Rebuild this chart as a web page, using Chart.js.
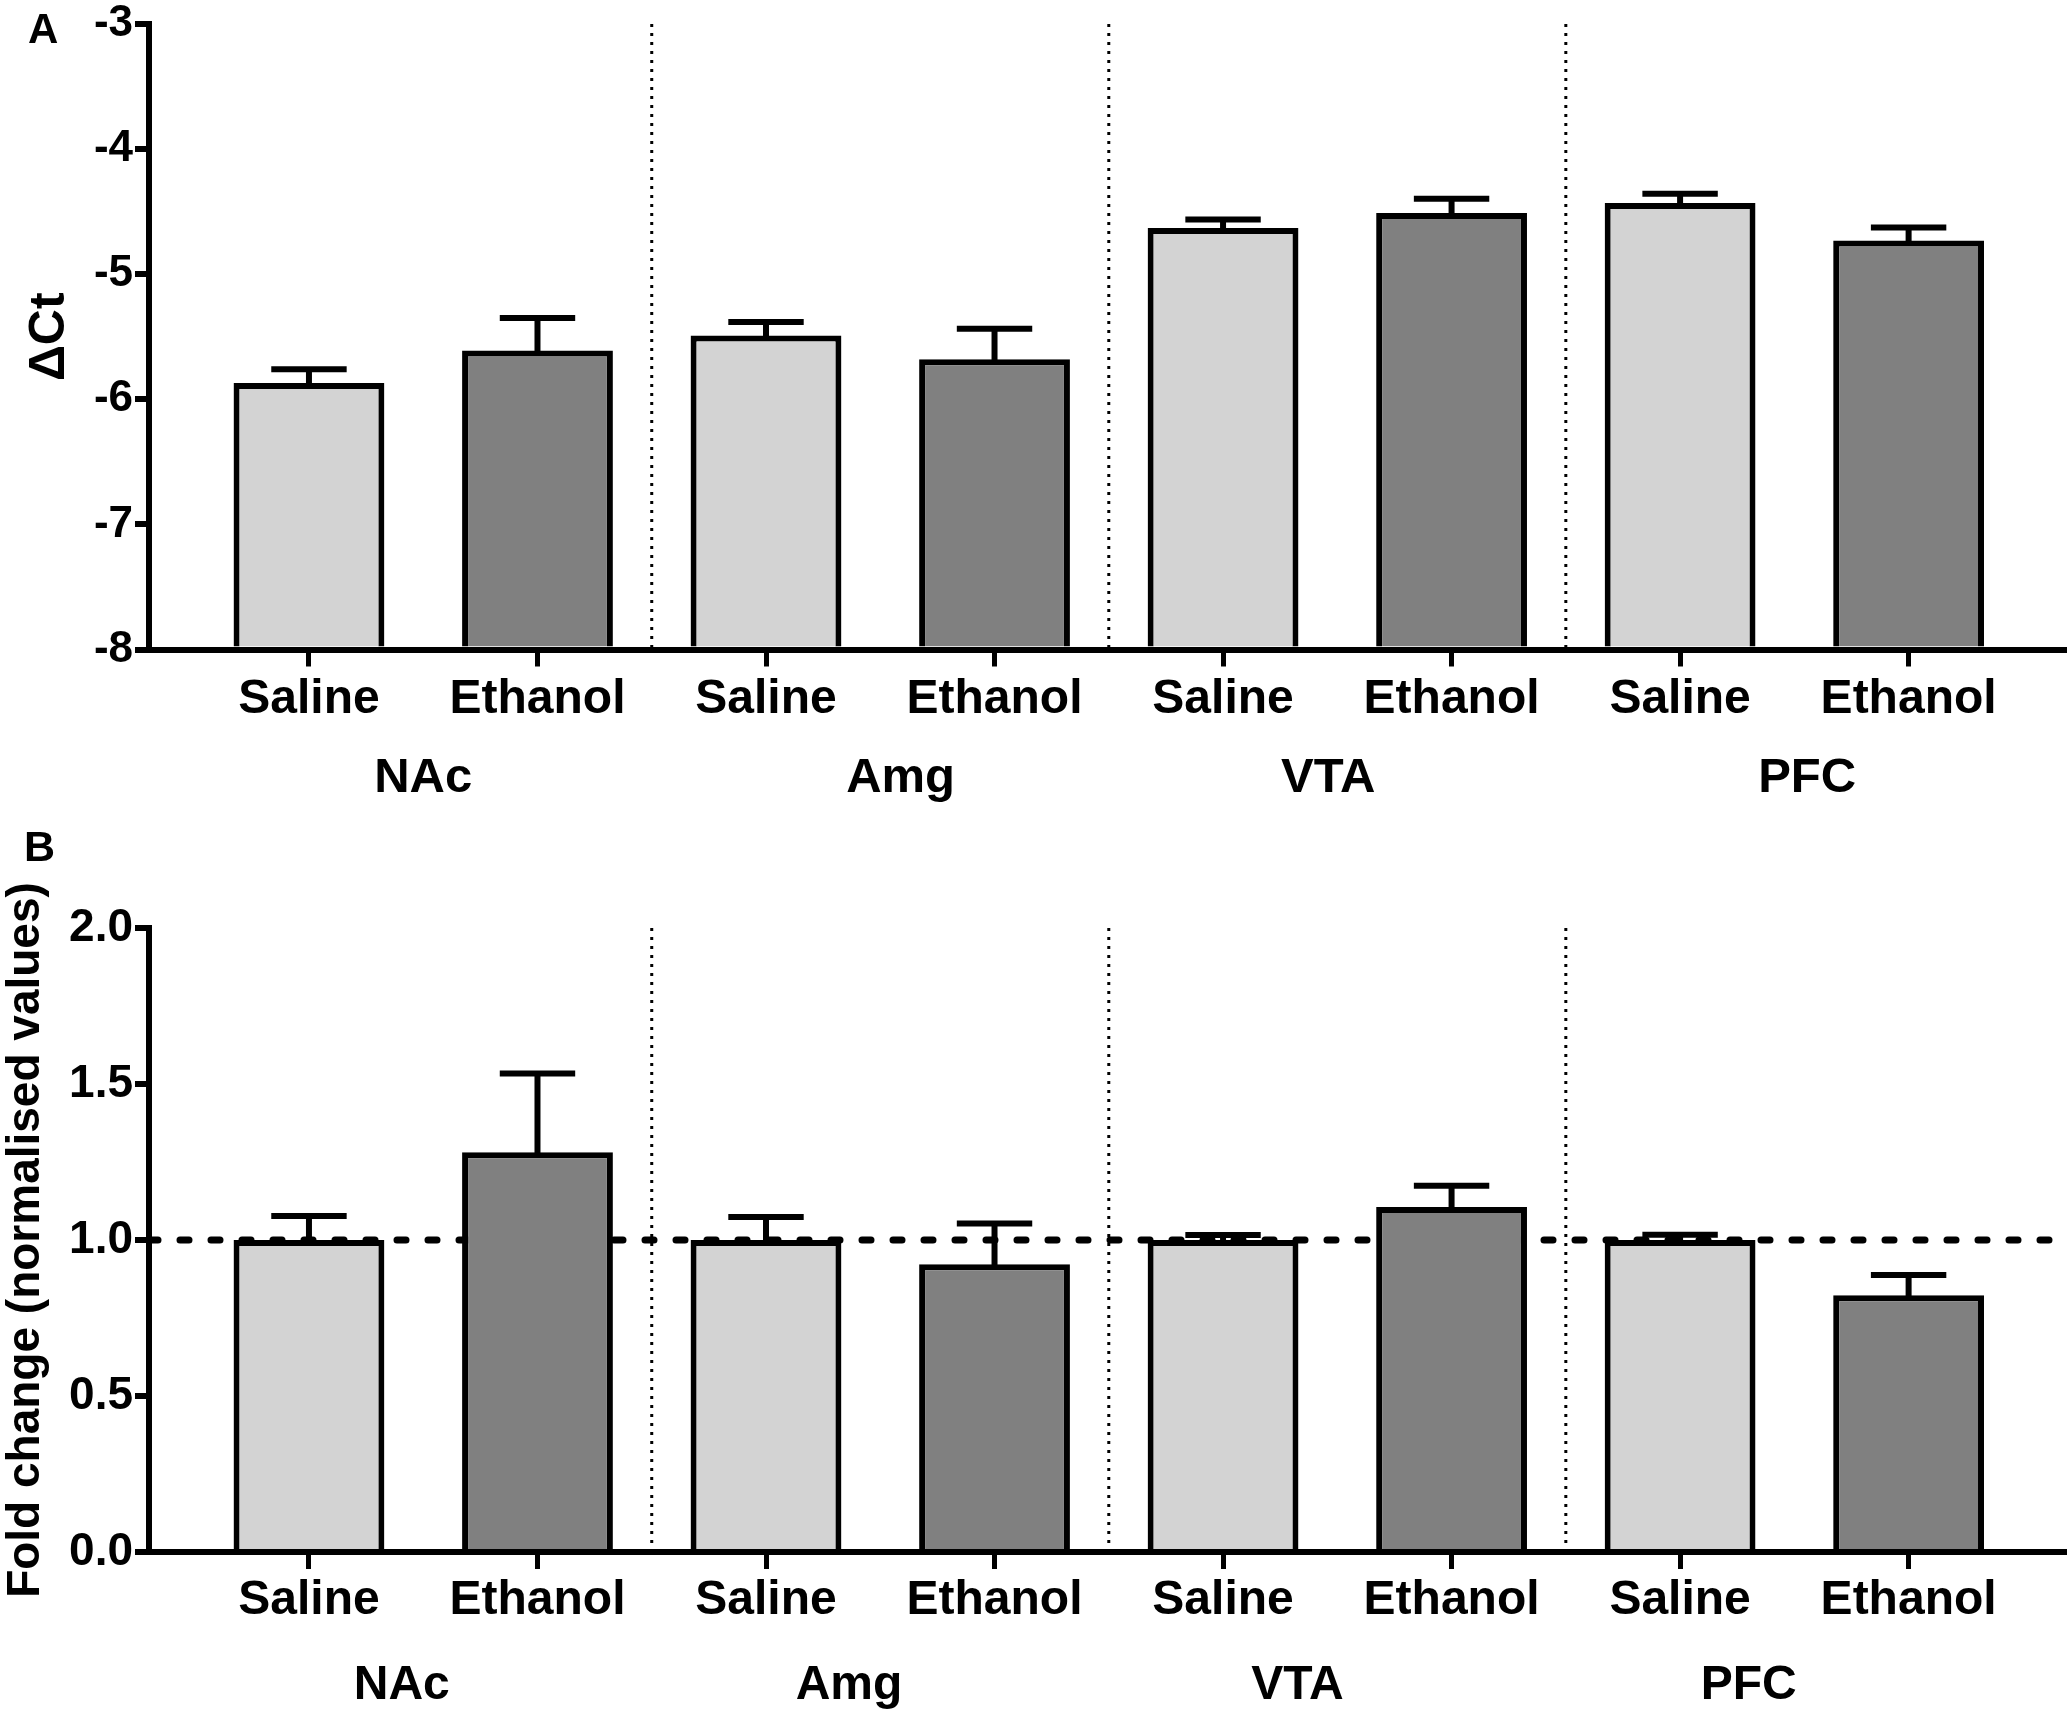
<!DOCTYPE html>
<html><head><meta charset="utf-8">
<script src="https://cdn.jsdelivr.net/npm/chart.js@4.4.1/dist/chart.umd.min.js"></script>
<style>
html,body{margin:0;padding:0;background:#fff;width:2071px;height:1713px;overflow:hidden;}
#wrapA{position:absolute;left:0;top:0;width:2071px;height:830px;}
#wrapB{position:absolute;left:0;top:820px;width:2071px;height:893px;}
.lbl{position:absolute;line-height:1;color:#000;font-weight:bold;font-family:'Liberation Sans';}
</style></head><body>
<div id="wrapA"><canvas id="chartA"></canvas></div>
<div id="wrapB"><canvas id="chartB"></canvas></div>
<div class="lbl" style="left:28px;top:8px;font-size:42px;">A</div>
<div class="lbl" style="left:24px;top:825px;font-size:43px;">B</div>
<script>
// ---- data ----
const groups = ['NAc', 'Amg', 'VTA', 'PFC'];
const treatments = ['Saline', 'Ethanol'];
const categories = ['Saline', 'Ethanol', 'Saline', 'Ethanol', 'Saline', 'Ethanol', 'Saline', 'Ethanol'];
const deltaCt = [-5.87, -5.61, -5.49, -5.68, -4.63, -4.51, -4.43, -4.73];
const deltaCtSem = [0.11, 0.26, 0.107, 0.244, 0.067, 0.113, 0.074, 0.104];
const foldChange = [1.0, 1.281, 1.0, 0.922, 1.0, 1.106, 1.0, 0.823];
const foldChangeSem = [0.077, 0.253, 0.074, 0.131, 0.016, 0.068, 0.017, 0.065];
const ticksA = [-8, -7, -6, -5, -4, -3];
const ticksB = [0, 0.5, 1.0, 1.5, 2.0];
const referenceLevel = 1.0;

// ---- layout constants ----
const X_MIN = -0.7, X_MAX = 7.68;
const LIGHT = '#d3d3d3', DARK = '#808080';
const FONT = 'Liberation Sans';

const errorBarPlugin = {
  id: 'errorBars',
  afterDatasetsDraw(chart, args, opts) {
    const meta = chart.getDatasetMeta(0);
    const ys = chart.scales.y;
    const ctx = chart.ctx;
    ctx.save();
    ctx.strokeStyle = '#000';
    ctx.lineWidth = opts.width;
    ctx.lineCap = 'butt';
    meta.data.forEach((bar, i) => {
      const v = opts.values[i], e = opts.errors[i];
      const yTop = ys.getPixelForValue(v + e);
      const half = bar.width * 0.25;
      ctx.beginPath();
      ctx.moveTo(bar.x, bar.y + 3);
      ctx.lineTo(bar.x, yTop);
      ctx.stroke();
      ctx.beginPath();
      ctx.moveTo(bar.x - half, yTop);
      ctx.lineTo(bar.x + half, yTop);
      ctx.stroke();
    });
    ctx.restore();
  }
};

function separators(yLo, yHi) {
  const d = [];
  for (let g = 1; g < groups.length; g++) {
    const x = g * treatments.length - 0.5;
    d.push({x: x, y: yHi}, {x: x, y: yLo}, {x: x, y: NaN});
  }
  return d;
}

function makeChart(id, cfg) {
  const datasets = [{
    type: 'bar',
    data: categories.map((c, i) => ({x: i, y: cfg.values[i]})),
    backgroundColor: categories.map((c, i) => (i % 2 ? DARK : LIGHT)),
    borderColor: '#000',
    borderWidth: 6,
    borderSkipped: 'start',
    barPercentage: 0.66,
    categoryPercentage: 1.0,
    base: cfg.yTicks[0],
    order: 0
  }, {
    type: 'line',
    data: separators(cfg.yTicks[0], cfg.yTicks[cfg.yTicks.length - 1]),
    borderColor: '#000',
    borderWidth: 3,
    borderDash: [3, 6],
    pointRadius: 0,
    fill: false,
    spanGaps: false,
    order: 2
  }];
  if (cfg.refLine !== undefined) {
    datasets.push({
      type: 'line',
      data: [{x: X_MIN, y: cfg.refLine}, {x: X_MAX, y: cfg.refLine}],
      borderColor: '#000',
      borderWidth: 7,
      borderDash: [9, 22],
      borderCapStyle: 'round',
      pointRadius: 0,
      fill: false,
      order: 1
    });
  }
  return new Chart(document.getElementById(id), {
    type: 'bar',
    data: {datasets: datasets},
    plugins: [errorBarPlugin],
    options: {
      responsive: true,
      maintainAspectRatio: false,
      devicePixelRatio: 1,
      animation: false,
      layout: {padding: {top: cfg.padTop, right: 7, left: 0, bottom: 0}},
      plugins: {
        legend: {display: false},
        tooltip: {enabled: false},
        errorBars: {values: cfg.values, errors: cfg.errors, width: 6}
      },
      scales: {
        x: {
          type: 'linear', position: 'bottom', min: X_MIN, max: X_MAX, weight: 0, offset: false,
          afterBuildTicks: s => { s.ticks = categories.map((c, i) => ({value: i})); },
          afterFit: s => { s.height = cfg.xH; },
          ticks: {
            callback: (v, i) => categories[i],
            autoSkip: false, maxRotation: 0, color: '#000',
            padding: cfg.xPad,
            font: {family: FONT, weight: 'bold', size: 48, lineHeight: 1.2}
          },
          grid: {display: true, offset: false, drawOnChartArea: false, drawTicks: true, tickLength: 17, tickWidth: 5, lineWidth: 5, color: '#000'},
          border: {display: true, width: 6, color: '#000'}
        },
        g: {
          type: 'linear', axis: 'x', position: 'bottom', min: X_MIN, max: X_MAX, weight: 1, offset: false,
          afterBuildTicks: s => { s.ticks = groups.map((g, i) => ({value: i * treatments.length + 0.5 + cfg.gShift[i]})); },
          afterFit: s => { s.height = cfg.gH; },
          ticks: {
            callback: (v, i) => groups[i],
            autoSkip: false, maxRotation: 0, color: '#000',
            padding: cfg.gPad,
            font: {family: FONT, weight: 'bold', size: cfg.gFont, lineHeight: 1.2}
          },
          grid: {display: false},
          border: {display: false}
        },
        y: {
          type: 'linear', position: 'left',
          min: cfg.yTicks[0], max: cfg.yTicks[cfg.yTicks.length - 1],
          afterBuildTicks: s => { s.ticks = cfg.yTicks.map(v => ({value: v})); },
          afterFit: s => { s.width = 149; },
          ticks: {
            callback: cfg.yFmt, color: '#000', padding: 2,
            font: {family: FONT, weight: 'bold', size: cfg.yFont, lineHeight: 1}
          },
          grid: {display: true, drawOnChartArea: false, drawTicks: true, tickLength: 14, tickWidth: 6, lineWidth: 6, color: '#000'},
          border: {display: true, width: 6, color: '#000'},
          title: {
            display: true, text: cfg.yTitle, color: '#000',
            padding: {top: cfg.titlePad, bottom: 0},
            font: {family: FONT, weight: 'bold', size: cfg.titleFont, lineHeight: 1}
          }
        }
      }
    }
  });
}

makeChart('chartA', {
  values: deltaCt, errors: deltaCtSem, yTicks: ticksA,
  yFmt: v => String(v), yTitle: 'ΔCt',
  padTop: 22, yFont: 44,
  xH: 80, xPad: 4.5,
  gH: 100.5, gPad: 12, gFont: 49, gShift: [0, 0.089, -0.04, 0.056],
  titleFont: 50, titlePad: 25
});

makeChart('chartB', {
  values: foldChange, errors: foldChangeSem, yTicks: ticksB,
  yFmt: v => v.toFixed(1), yTitle: 'Fold change (normalised values)',
  refLine: referenceLevel,
  padTop: 108, yFont: 46,
  xH: 75, xPad: 3,
  gH: 86, gPad: 22, gFont: 48, gShift: [-0.094, -0.137, -0.174, -0.2],
  titleFont: 46, titlePad: 3
});
</script>
</body></html>
